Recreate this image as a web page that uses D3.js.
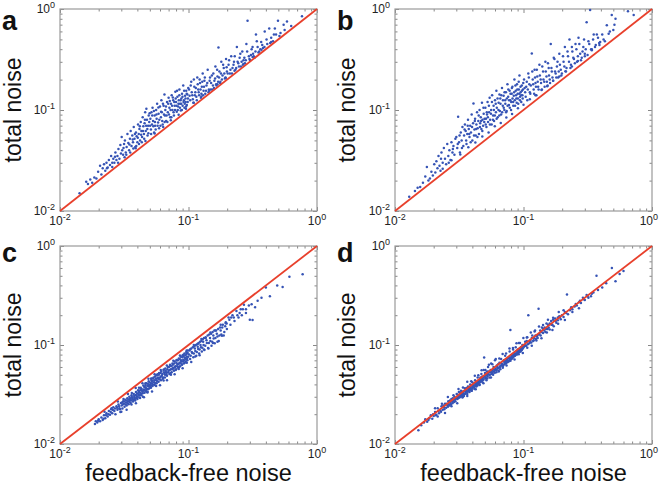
<!DOCTYPE html>
<html><head><meta charset="utf-8">
<script src="https://cdn.jsdelivr.net/npm/d3@7/dist/d3.min.js"></script>
<style>body{margin:0;background:#fff}svg{display:block}text{font-family:"Liberation Sans",Arial,sans-serif}</style>
</head><body><svg id="c" width="660" height="485"></svg>
<script>
const majorTicks=[0.01,0.1,1];
const tickExps=["-2","-1","0"];
const panelLetters=["a","b","c","d"];
const yTitle="total noise";
const xTitle="feedback-free noise";

const ptsA=[[0.0142,0.0150],[0.0160,0.0195],[0.0165,0.0185],[0.0172,0.0205],[0.0178,0.0190],[0.0185,0.0215],[0.0192,0.0210],[0.0198,0.0245],
[0.0205,0.0280],[0.0210,0.0230],[0.0215,0.0265],[0.0220,0.0290],[0.0225,0.0250],[0.0230,0.0300],[0.0235,0.0270],[0.0240,0.0320],[0.0245,0.0285],[0.0250,0.0350],[0.0255,0.0300],[0.0260,0.0330],[0.0265,0.0300],[0.0270,0.0380],[0.0275,0.0320],[0.0280,0.0350],[0.0285,0.0410],[0.0290,0.0330],[0.0295,0.0450],[0.0298,0.0370],
[0.0302,0.0540],[0.0305,0.0400],[0.0310,0.0360],[0.0315,0.0460],[0.0320,0.0500],[0.0325,0.0380],[0.0330,0.0430],[0.0335,0.0580],[0.0340,0.0470],[0.0345,0.0400],[0.0350,0.0520],[0.0355,0.0620],[0.0360,0.0440],[0.0365,0.0560],[0.0370,0.0480],[0.0375,0.0680],[0.0380,0.0520],[0.0385,0.0430],[0.0390,0.0600],[0.0395,0.0550],[0.0400,0.0480],[0.0405,0.0720],[0.0410,0.0580],[0.0415,0.0650],[0.0420,0.0500],[0.0425,0.0760],[0.0430,0.0620],[0.0435,0.0540],[0.0440,0.0850],[0.0445,0.0690],[0.0450,0.0580],[0.0455,0.0740],[0.0460,0.0950],[0.0465,0.0620],[0.0470,0.1030],[0.0475,0.0800],[0.0480,0.0560],[0.0485,0.0700],[0.0490,0.0880],[0.0495,0.0760],
[0.0505,0.0820],[0.0510,0.0640],[0.0515,0.0950],[0.0520,0.0720],[0.0525,0.1050],[0.0530,0.0780],[0.0540,0.0600],[0.0545,0.0880],[0.0550,0.0700],[0.0560,0.1000],[0.0565,0.0820],[0.0570,0.1150],[0.0580,0.0750],[0.0585,0.0920],[0.0590,0.0660],[0.0600,0.1080],[0.0610,0.0850],[0.0615,0.1250],[0.0620,0.0950],[0.0630,0.0720],[0.0640,0.1100],[0.0650,0.1420],[0.0655,0.0880],[0.0660,0.1000],[0.0670,0.0780],[0.0680,0.1200],[0.0690,0.0950],[0.0700,0.1320],[0.0710,0.1050],[0.0720,0.0850],[0.0730,0.1150],[0.0740,0.1400],[0.0750,0.1000],[0.0760,0.1250],[0.0770,0.0880],[0.0780,0.1100],[0.0790,0.1520],[0.0800,0.1200],[0.0810,0.0960],[0.0820,0.1350],[0.0830,0.1080],[0.0840,0.1250],[0.0850,0.1600],[0.0860,0.1150],[0.0870,0.0990],[0.0880,0.1300],[0.0890,0.1450],[0.0900,0.1100],[0.0910,0.1750],[0.0920,0.1250],[0.0930,0.1050],[0.0940,0.1380],[0.0950,0.1200],[0.0960,0.1550],[0.0970,0.1120],[0.0980,0.1420],[0.0990,0.1300],
[0.101,0.160],[0.103,0.125],[0.105,0.190],[0.107,0.140],[0.109,0.118],[0.111,0.170],[0.113,0.150],[0.115,0.135],[0.117,0.210],[0.119,0.160],[0.121,0.140],[0.123,0.185],[0.125,0.132],[0.127,0.170],[0.129,0.230],[0.131,0.155],[0.133,0.195],[0.135,0.145],[0.138,0.175],[0.141,0.250],[0.144,0.160],[0.147,0.210],[0.150,0.185],[0.153,0.160],[0.156,0.230],[0.159,0.195],[0.162,0.270],[0.165,0.175],[0.168,0.215],[0.171,0.416],[0.174,0.240],[0.177,0.190],[0.180,0.300],[0.184,0.220],[0.188,0.260],[0.192,0.205],[0.196,0.320],[0.199,0.240],
[0.205,0.280],[0.210,0.230],[0.215,0.340],[0.220,0.260],[0.226,0.300],[0.232,0.250],[0.238,0.420],[0.244,0.290],[0.250,0.330],[0.256,0.270],[0.262,0.380],[0.268,0.310],[0.275,0.290],[0.282,0.450],[0.288,0.766],[0.295,0.340],[0.302,0.310],[0.310,0.400],[0.318,0.360],[0.326,0.330],[0.335,0.560],[0.345,0.420],[0.355,0.380],[0.368,0.470],[0.380,0.410],[0.392,0.600],
[0.410,0.450],[0.425,0.640],[0.440,0.520],[0.455,0.480],[0.470,0.640],[0.480,0.560],[0.497,0.766],[0.520,0.580],[0.550,0.700],[0.584,0.750],[0.630,0.680],[0.764,0.850]];
const ptsA2=[[0.0232,0.0265],[0.0268,0.0345],[0.0283,0.0300],[0.0312,0.0420],[0.0328,0.0360],[0.0347,0.0455],[0.0352,0.0380],[0.0368,0.0510],[0.0372,0.0415],[0.0383,0.0580],[0.0392,0.0440],[0.0403,0.0530],[0.0412,0.0460],[0.0418,0.0690],[0.0428,0.0570],[0.0433,0.0480],[0.0442,0.0620],[0.0452,0.0520],[0.0458,0.0800],[0.0468,0.0700],[0.0478,0.0650],[0.0487,0.0590],[0.0498,0.0930],[0.0503,0.0700],[0.0512,0.0580],[0.0522,0.0880],[0.0533,0.0690],[0.0538,0.0980],[0.0548,0.0760],[0.0555,0.0640],[0.0563,0.0900],[0.0575,0.0700],[0.0583,0.1060],[0.0593,0.0800],[0.0605,0.0700],[0.0612,0.0960],[0.0625,0.0780],[0.0633,0.1150],[0.0645,0.0900],[0.0652,0.0760],[0.0668,0.1080],[0.0675,0.0880],[0.0685,0.0760],[0.0695,0.1150],[0.0705,0.0900],[0.0715,0.1230],[0.0725,0.1000],[0.0735,0.0850],[0.0745,0.1100],[0.0755,0.1330],[0.0765,0.0950],[0.0775,0.1200],[0.0785,0.1000],[0.0795,0.1300],[0.0805,0.1100],[0.0815,0.1550],[0.0825,0.1000],[0.0835,0.1150],[0.0848,0.1400],[0.0858,0.1050],[0.0868,0.1250],[0.0878,0.1150],[0.0888,0.1000],[0.0898,0.1350],[0.0915,0.1200],[0.0925,0.1550],[0.0935,0.1150],[0.0948,0.1300],[0.0958,0.1080],[0.0968,0.1450],[0.0985,0.1200],[0.0995,0.1650],[0.102,0.138],[0.104,0.175],[0.106,0.150],[0.108,0.128],[0.110,0.200],[0.112,0.140],[0.114,0.165],[0.116,0.125],[0.118,0.180],[0.120,0.150],[0.122,0.200],[0.124,0.160],[0.126,0.145],[0.128,0.190],[0.130,0.140],[0.132,0.170],[0.134,0.210],[0.137,0.155],[0.140,0.185],[0.143,0.150],[0.146,0.195],[0.149,0.160],[0.152,0.220],[0.155,0.175],[0.158,0.165],[0.161,0.205],[0.164,0.180],[0.167,0.250],[0.170,0.190],[0.173,0.210],[0.176,0.185],[0.179,0.230],[0.182,0.200],[0.186,0.280],[0.190,0.230],[0.194,0.210],[0.198,0.265],[0.202,0.230],[0.207,0.310],[0.212,0.250],[0.218,0.230],[0.224,0.280],[0.229,0.340],[0.235,0.260],[0.241,0.300],[0.247,0.270],[0.253,0.360],[0.259,0.300],[0.265,0.280],[0.272,0.330],[0.279,0.310],[0.286,0.380],[0.298,0.320],[0.306,0.350],[0.315,0.420],[0.322,0.340],[0.332,0.380],[0.340,0.480],[0.350,0.370],[0.362,0.400],[0.375,0.440],[0.390,0.420],[0.405,0.500],[0.432,0.460],[0.462,0.560],[0.510,0.540],[0.560,0.620]];
const ptsA3=[[0.0255,0.0272],[0.0318,0.0340],[0.0388,0.0418],[0.0462,0.0492],[0.0545,0.0585],[0.0635,0.0680],[0.0728,0.0790],[0.0838,0.0895],[0.0955,0.1030],[0.110,0.1180],[0.126,0.1360],[0.145,0.1550],[0.168,0.1800],[0.195,0.2080],[0.228,0.2450],[0.268,0.2850],[0.315,0.3350],[0.370,0.3950],[0.440,0.4700]];

const ptsB=[[0.0129,0.0138],[0.0143,0.0158],[0.0150,0.0170],[0.0157,0.0173],[0.0165,0.0190],[0.0172,0.0220],[0.0177,0.0273],[0.0182,0.0200],[0.0187,0.0210],[0.0192,0.0245],[0.0197,0.0225],
[0.0202,0.0290],[0.0206,0.0240],[0.0210,0.0310],[0.0214,0.0265],[0.0218,0.0350],[0.0222,0.0280],[0.0226,0.0250],[0.0230,0.0380],[0.0235,0.0300],[0.0240,0.0420],[0.0245,0.0330],[0.0250,0.0290],[0.0255,0.0460],[0.0260,0.0350],[0.0265,0.0400],[0.0270,0.0320],[0.0275,0.0480],[0.0280,0.0380],[0.0285,0.0440],[0.0290,0.0360],[0.0295,0.0520],
[0.0300,0.0540],[0.0305,0.0420],[0.0310,0.0857],[0.0315,0.0480],[0.0320,0.0380],[0.0325,0.0600],[0.0330,0.0500],[0.0335,0.0680],[0.0340,0.0440],[0.0345,0.0560],[0.0350,0.0720],[0.0355,0.0620],[0.0360,0.0460],[0.0365,0.0580],[0.0370,0.0800],[0.0375,0.0650],[0.0380,0.0540],[0.0385,0.0700],[0.0390,0.0600],[0.0395,0.0900],[0.0400,0.0500],[0.0405,0.0740],[0.0408,0.1160],[0.0415,0.0640],[0.0420,0.0820],[0.0425,0.0560],[0.0430,0.0720],[0.0435,0.0950],[0.0440,0.0660],[0.0445,0.0780],[0.0450,0.0580],[0.0455,0.1000],[0.0460,0.0740],[0.0465,0.0850],[0.0470,0.0650],[0.0475,0.1180],[0.0480,0.0800],[0.0485,0.0700],[0.0490,0.0920],[0.0495,0.0760],
[0.0505,0.1050],[0.0510,0.0820],[0.0515,0.0680],[0.0520,0.0900],[0.0525,0.1200],[0.0530,0.0760],[0.0540,0.0950],[0.0545,0.1320],[0.0550,0.0800],[0.0560,0.1000],[0.0565,0.0720],[0.0570,0.1400],[0.0580,0.0880],[0.0585,0.1100],[0.0590,0.0780],[0.0600,0.1250],[0.0610,0.0950],[0.0615,0.1550],[0.0620,0.1050],[0.0630,0.0850],[0.0640,0.1180],[0.0650,0.1420],[0.0655,0.0980],[0.0660,0.1300],[0.0670,0.0900],[0.0680,0.1650],[0.0690,0.1100],[0.0700,0.1380],[0.0710,0.1000],[0.0720,0.1250],[0.0730,0.1500],[0.0740,0.0980],[0.0750,0.1800],[0.0760,0.1350],[0.0770,0.1120],[0.0780,0.1550],[0.0790,0.1250],[0.0800,0.1000],[0.0810,0.1450],[0.0820,0.1700],[0.0830,0.1200],[0.0840,0.1380],[0.0850,0.2000],[0.0860,0.1100],[0.0870,0.1550],[0.0880,0.1300],[0.0890,0.1800],[0.0900,0.1450],[0.0910,0.1150],[0.0920,0.1600],[0.0930,0.2200],[0.0940,0.1350],[0.0950,0.1500],[0.0960,0.1200],[0.0970,0.1750],[0.0980,0.1400],[0.0990,0.1600],
[0.101,0.200],[0.103,0.150],[0.105,0.170],[0.107,0.125],[0.109,0.230],[0.111,0.180],[0.113,0.145],[0.116,0.362],[0.118,0.200],[0.120,0.160],[0.122,0.250],[0.124,0.185],[0.126,0.140],[0.128,0.215],[0.130,0.170],[0.133,0.280],[0.136,0.200],[0.139,0.160],[0.142,0.240],[0.145,0.190],[0.148,0.300],[0.151,0.215],[0.154,0.175],[0.157,0.260],[0.160,0.200],[0.163,0.450],[0.166,0.240],[0.170,0.195],[0.174,0.320],[0.178,0.230],[0.182,0.270],[0.186,0.210],[0.190,0.360],[0.195,0.250],[0.199,0.230],
[0.205,0.300],[0.210,0.420],[0.216,0.260],[0.222,0.340],[0.228,0.500],[0.234,0.280],[0.240,0.380],[0.247,0.320],[0.254,0.450],[0.261,0.300],[0.268,0.520],[0.276,0.360],[0.284,0.330],[0.292,0.420],[0.300,0.360],[0.310,0.740],[0.320,0.480],[0.330,0.980],[0.340,0.400],[0.352,0.560],[0.365,0.440],[0.380,0.520],[0.395,0.470],
[0.420,0.500],[0.445,0.690],[0.460,0.570],[0.486,0.870],[0.500,0.620],[0.520,0.800],[0.650,0.950],[0.720,0.870]];
const ptsB2=[[0.0228,0.0330],[0.0262,0.0300],[0.0282,0.0410],[0.0308,0.0460],[0.0318,0.0560],[0.0332,0.0420],[0.0348,0.0640],[0.0358,0.0500],[0.0368,0.0700],[0.0378,0.0580],[0.0388,0.0480],[0.0398,0.0680],[0.0412,0.0560],[0.0418,0.0780],[0.0428,0.0650],[0.0438,0.0540],[0.0448,0.0880],[0.0458,0.0680],[0.0468,0.0780],[0.0478,0.0620],[0.0488,0.1050],[0.0498,0.0820],[0.0508,0.0720],[0.0518,0.0950],[0.0528,0.0850],[0.0538,0.1100],[0.0548,0.0720],[0.0558,0.0920],[0.0568,0.1200],[0.0578,0.0800],[0.0588,0.1000],[0.0598,0.0880],[0.0608,0.1150],[0.0618,0.0820],[0.0628,0.1300],[0.0638,0.1000],[0.0648,0.0880],[0.0662,0.1150],[0.0672,0.1400],[0.0682,0.0950],[0.0692,0.1250],[0.0702,0.1050],[0.0712,0.1500],[0.0722,0.1150],[0.0732,0.0950],[0.0742,0.1300],[0.0752,0.1100],[0.0762,0.1600],[0.0772,0.1250],[0.0782,0.1050],[0.0792,0.1450],[0.0802,0.1200],[0.0812,0.1650],[0.0822,0.1300],[0.0832,0.1100],[0.0845,0.1500],[0.0855,0.1250],[0.0865,0.1750],[0.0875,0.1400],[0.0885,0.1180],[0.0895,0.1600],[0.0905,0.1300],[0.0918,0.1900],[0.0928,0.1450],[0.0938,0.1250],[0.0948,0.1700],[0.0958,0.1400],[0.0972,0.1550],[0.0985,0.1300],[0.0995,0.1850],[0.102,0.165],[0.104,0.135],[0.106,0.190],[0.108,0.160],[0.110,0.210],[0.112,0.150],[0.114,0.175],[0.117,0.240],[0.119,0.180],[0.121,0.145],[0.123,0.210],[0.125,0.170],[0.127,0.250],[0.129,0.190],[0.131,0.160],[0.134,0.220],[0.137,0.185],[0.140,0.270],[0.143,0.200],[0.146,0.170],[0.149,0.240],[0.152,0.190],[0.155,0.290],[0.158,0.220],[0.161,0.185],[0.165,0.260],[0.168,0.210],[0.172,0.330],[0.176,0.240],[0.180,0.210],[0.184,0.300],[0.188,0.240],[0.192,0.280],[0.197,0.220],[0.203,0.340],[0.208,0.270],[0.214,0.240],[0.220,0.380],[0.226,0.300],[0.232,0.260],[0.238,0.420],[0.244,0.330],[0.251,0.290],[0.258,0.400],[0.265,0.340],[0.272,0.450],[0.280,0.310],[0.288,0.380],[0.296,0.500],[0.305,0.400],[0.315,0.350],[0.325,0.450],[0.336,0.400],[0.348,0.500],[0.360,0.420],[0.372,0.560],[0.388,0.460],[0.410,0.560],[0.430,0.480],[0.470,0.600],[0.510,0.700]];
const ptsB3=[[0.0235,0.0262],[0.0275,0.0318],[0.0322,0.0362],[0.0372,0.0428],[0.0422,0.0478],[0.0478,0.0545],[0.0535,0.0598],[0.0598,0.0690],[0.0665,0.0745],[0.0735,0.0845],[0.0815,0.0915],[0.0905,0.1040],[0.1000,0.1130],[0.112,0.1280],[0.124,0.1400],[0.138,0.1580],[0.153,0.1720],[0.170,0.1950],[0.190,0.2150],[0.212,0.2420],[0.238,0.2700],[0.265,0.3050],[0.300,0.3400],[0.340,0.3900],[0.390,0.4400]];

const ptsC=[[0.0187,0.0159],[0.0190,0.0170],[0.0195,0.0165],[0.0200,0.0178],[0.0205,0.0170],[0.0210,0.0185],[0.0215,0.0175],[0.0220,0.0195],[0.0225,0.0182],[0.0230,0.0205],[0.0235,0.0190],[0.0240,0.0215],[0.0245,0.0198],[0.0250,0.0225],[0.0255,0.0205],[0.0260,0.0235],[0.0265,0.0215],[0.0270,0.0200],[0.0275,0.0240],[0.0280,0.0222],[0.0285,0.0250],[0.0290,0.0230],[0.0295,0.0210],[0.0298,0.0260],
[0.0302,0.0245],[0.0306,0.0228],[0.0310,0.0270],[0.0314,0.0255],[0.0318,0.0238],[0.0322,0.0280],[0.0326,0.0262],[0.0330,0.0245],[0.0334,0.0290],[0.0338,0.0270],[0.0342,0.0252],[0.0346,0.0300],[0.0350,0.0278],[0.0355,0.0260],[0.0360,0.0310],[0.0365,0.0285],[0.0370,0.0268],[0.0375,0.0320],[0.0380,0.0295],[0.0385,0.0275],[0.0390,0.0335],[0.0395,0.0305],[0.0400,0.0285],[0.0405,0.0350],[0.0410,0.0315],[0.0415,0.0295],[0.0420,0.0330],[0.0425,0.0370],[0.0430,0.0310],[0.0435,0.0345],[0.0440,0.0325],[0.0445,0.0390],[0.0450,0.0355],[0.0455,0.0330],[0.0460,0.0375],[0.0465,0.0345],[0.0470,0.0410],[0.0475,0.0360],[0.0480,0.0340],[0.0485,0.0385],[0.0490,0.0430],[0.0495,0.0365],
[0.0505,0.0395],[0.0510,0.0370],[0.0515,0.0440],[0.0520,0.0410],[0.0525,0.0385],[0.0530,0.0460],[0.0540,0.0420],[0.0545,0.0395],[0.0550,0.0480],[0.0560,0.0440],[0.0565,0.0410],[0.0570,0.0500],[0.0580,0.0455],[0.0585,0.0425],[0.0590,0.0520],[0.0600,0.0470],[0.0610,0.0440],[0.0615,0.0540],[0.0620,0.0490],[0.0630,0.0455],[0.0640,0.0560],[0.0650,0.0510],[0.0655,0.0470],[0.0660,0.0580],[0.0670,0.0530],[0.0680,0.0490],[0.0690,0.0600],[0.0700,0.0550],[0.0710,0.0510],[0.0720,0.0620],[0.0730,0.0570],[0.0740,0.0530],[0.0750,0.0650],[0.0760,0.0590],[0.0770,0.0550],[0.0780,0.0680],[0.0790,0.0610],[0.0800,0.0570],[0.0810,0.0700],[0.0820,0.0640],[0.0830,0.0590],[0.0840,0.0730],[0.0850,0.0660],[0.0860,0.0610],[0.0870,0.0760],[0.0880,0.0680],[0.0890,0.0630],[0.0900,0.0790],[0.0910,0.0710],[0.0920,0.0650],[0.0930,0.0820],[0.0940,0.0740],[0.0950,0.0680],[0.0960,0.0850],[0.0970,0.0760],[0.0980,0.0700],[0.0990,0.0880],
[0.101,0.080],[0.103,0.072],[0.105,0.092],[0.107,0.083],[0.109,0.075],[0.111,0.097],[0.113,0.087],[0.115,0.078],[0.117,0.102],[0.119,0.091],[0.121,0.082],[0.123,0.108],[0.125,0.095],[0.127,0.086],[0.129,0.114],[0.131,0.100],[0.133,0.089],[0.136,0.120],[0.139,0.105],[0.142,0.093],[0.145,0.128],[0.148,0.110],[0.151,0.098],[0.154,0.135],[0.157,0.116],[0.160,0.104],[0.164,0.140],[0.168,0.122],[0.172,0.110],[0.176,0.150],[0.180,0.128],[0.185,0.160],[0.190,0.135],[0.195,0.170],[0.199,0.145],
[0.205,0.190],[0.212,0.160],[0.220,0.200],[0.228,0.175],[0.236,0.220],[0.245,0.190],[0.255,0.230],[0.260,0.200],[0.270,0.255],[0.280,0.210],[0.295,0.250],[0.300,0.180],[0.310,0.258],[0.315,0.179],[0.330,0.240],[0.345,0.280],[0.370,0.300],[0.400,0.380],[0.430,0.310],[0.490,0.400],[0.540,0.385],[0.610,0.488],[0.773,0.518]];
const ptsC2=[[0.0198,0.0172],[0.0218,0.0180],[0.0228,0.0195],[0.0238,0.0200],[0.0248,0.0210],[0.0258,0.0220],[0.0268,0.0228],[0.0278,0.0232],[0.0288,0.0240],[0.0293,0.0225],[0.0304,0.0262],[0.0308,0.0250],[0.0316,0.0268],[0.0324,0.0250],[0.0328,0.0275],[0.0336,0.0258],[0.0340,0.0282],[0.0348,0.0265],[0.0352,0.0290],[0.0358,0.0275],[0.0362,0.0298],[0.0368,0.0292],[0.0372,0.0278],[0.0378,0.0305],[0.0382,0.0285],[0.0388,0.0312],[0.0392,0.0292],[0.0398,0.0322],[0.0402,0.0300],[0.0408,0.0330],[0.0412,0.0342],[0.0418,0.0310],[0.0422,0.0352],[0.0428,0.0320],[0.0432,0.0360],[0.0438,0.0335],[0.0442,0.0300],[0.0448,0.0345],[0.0452,0.0378],[0.0458,0.0350],[0.0462,0.0395],[0.0468,0.0365],[0.0472,0.0335],[0.0478,0.0385],[0.0482,0.0405],[0.0488,0.0360],[0.0492,0.0395],[0.0498,0.0420],[0.0502,0.0380],[0.0508,0.0410],[0.0512,0.0455],[0.0518,0.0390],[0.0522,0.0430],[0.0528,0.0400],[0.0535,0.0470],[0.0542,0.0440],[0.0552,0.0410],[0.0558,0.0460],[0.0562,0.0495],[0.0572,0.0430],[0.0578,0.0470],[0.0588,0.0500],[0.0595,0.0450],[0.0605,0.0520],[0.0612,0.0480],[0.0625,0.0510],[0.0635,0.0470],[0.0645,0.0530],[0.0658,0.0500],[0.0665,0.0550],[0.0675,0.0510],[0.0685,0.0570],[0.0695,0.0530],[0.0705,0.0600],[0.0715,0.0560],[0.0725,0.0520],[0.0735,0.0610],[0.0745,0.0570],[0.0755,0.0630],[0.0765,0.0580],[0.0775,0.0650],[0.0785,0.0600],[0.0795,0.0560],[0.0805,0.0660],[0.0815,0.0610],[0.0825,0.0700],[0.0835,0.0640],[0.0845,0.0600],[0.0855,0.0720],[0.0865,0.0660],[0.0875,0.0700],[0.0885,0.0640],[0.0895,0.0750],[0.0905,0.0680],[0.0915,0.0770],[0.0925,0.0700],[0.0935,0.0660],[0.0945,0.0790],[0.0955,0.0720],[0.0965,0.0810],[0.0975,0.0730],[0.0985,0.0830],[0.0995,0.0760],[0.102,0.088],[0.104,0.078],[0.106,0.085],[0.108,0.095],[0.110,0.082],[0.112,0.092],[0.114,0.100],[0.116,0.085],[0.118,0.096],[0.120,0.105],[0.122,0.090],[0.124,0.100],[0.126,0.110],[0.128,0.094],[0.130,0.108],[0.132,0.118],[0.135,0.098],[0.138,0.112],[0.141,0.125],[0.144,0.105],[0.147,0.118],[0.150,0.130],[0.153,0.108],[0.156,0.125],[0.159,0.140],[0.162,0.118],[0.166,0.130],[0.170,0.145],[0.174,0.125],[0.178,0.140],[0.183,0.150],[0.188,0.125],[0.193,0.155],[0.198,0.165],[0.208,0.180],[0.225,0.190],[0.250,0.210],[0.265,0.230]];
const ptsC3=[[0.030,0.0212],[0.033,0.0222],[0.036,0.0250],[0.039,0.0258],[0.042,0.0292],[0.045,0.0296],[0.048,0.0332],[0.052,0.0340],[0.056,0.0385],[0.060,0.0392],[0.064,0.0438],[0.068,0.0440],[0.073,0.0500],[0.078,0.0505],[0.084,0.0572],[0.090,0.0582],[0.097,0.0660],[0.105,0.0672],[0.113,0.0765],[0.122,0.0790],[0.132,0.0900],[0.143,0.0920],[0.155,0.1050],[0.168,0.1080],[0.182,0.1240],
[0.0222,0.0212],[0.0252,0.0230],[0.0282,0.0268],[0.0312,0.0284],[0.0338,0.0320],[0.0362,0.0328],[0.0388,0.0368],[0.0412,0.0370],[0.0438,0.0410],[0.0462,0.0412],[0.0488,0.0456],[0.0515,0.0460],[0.0545,0.0505],[0.0575,0.0505],[0.0608,0.0560],[0.0642,0.0565],[0.0678,0.0620],[0.0718,0.0630],[0.0762,0.0695],[0.0808,0.0705],[0.0858,0.0785],[0.0912,0.0795],[0.0968,0.0880],[0.103,0.0905],[0.110,0.1000],[0.118,0.1030],[0.126,0.1150],[0.136,0.1180],[0.148,0.1340],[0.162,0.1400],[0.178,0.1600],[0.195,0.1660],[0.215,0.1900],[0.240,0.2000],[0.280,0.2300]];

const ptsD=[[0.0152,0.0138],[0.0160,0.0155],[0.0168,0.0165],[0.0172,0.0178],[0.0178,0.0168],[0.0185,0.0182],[0.0190,0.0195],[0.0195,0.0180],[0.0200,0.0192],[0.0205,0.0210],[0.0210,0.0198],[0.0215,0.0230],[0.0220,0.0205],[0.0225,0.0218],[0.0230,0.0240],[0.0235,0.0222],[0.0240,0.0235],[0.0245,0.0255],[0.0250,0.0232],[0.0255,0.0248],[0.0260,0.0270],[0.0265,0.0245],[0.0270,0.0260],[0.0275,0.0285],[0.0280,0.0258],[0.0285,0.0275],[0.0290,0.0300],[0.0295,0.0270],[0.0298,0.0288],
[0.0302,0.0320],[0.0306,0.0285],[0.0310,0.0300],[0.0314,0.0335],[0.0318,0.0295],[0.0322,0.0312],[0.0326,0.0345],[0.0330,0.0305],[0.0334,0.0322],[0.0338,0.0300],[0.0342,0.0340],[0.0346,0.0318],[0.0350,0.0365],[0.0355,0.0330],[0.0360,0.0345],[0.0365,0.0320],[0.0370,0.0380],[0.0375,0.0350],[0.0380,0.0335],[0.0385,0.0400],[0.0390,0.0360],[0.0395,0.0345],[0.0400,0.0420],[0.0405,0.0375],[0.0410,0.0390],[0.0415,0.0360],[0.0420,0.0440],[0.0425,0.0395],[0.0430,0.0380],[0.0435,0.0410],[0.0440,0.0470],[0.0445,0.0405],[0.0450,0.0420],[0.0455,0.0395],[0.0460,0.0450],[0.0465,0.0430],[0.0470,0.0510],[0.0475,0.0440],[0.0480,0.0420],[0.0485,0.0470],[0.0490,0.0560],[0.0494,0.0748],
[0.0505,0.0460],[0.0510,0.0500],[0.0515,0.0440],[0.0520,0.0540],[0.0525,0.0480],[0.0530,0.0600],[0.0540,0.0500],[0.0545,0.0470],[0.0550,0.0530],[0.0560,0.0650],[0.0565,0.0510],[0.0570,0.0550],[0.0580,0.0500],[0.0585,0.0600],[0.0590,0.0540],[0.0600,0.0700],[0.0610,0.0560],[0.0615,0.0530],[0.0620,0.0620],[0.0630,0.0580],[0.0640,0.0550],[0.0650,0.0660],[0.0655,0.0600],[0.0660,0.0570],[0.0670,0.0720],[0.0680,0.0620],[0.0690,0.0590],[0.0700,0.0680],[0.0710,0.0640],[0.0720,0.0780],[0.0730,0.0650],[0.0740,0.0700],[0.0750,0.0670],[0.0760,0.0740],[0.0770,0.0690],[0.0780,0.0860],[0.0790,0.1420],[0.0800,0.0720],[0.0810,0.0780],[0.0820,0.0740],[0.0830,0.0900],[0.0840,0.0770],[0.0850,0.0810],[0.0860,0.0780],[0.0870,0.0950],[0.0880,0.0820],[0.0890,0.0800],[0.0900,0.0870],[0.0910,0.0830],[0.0920,0.1050],[0.0930,0.0850],[0.0940,0.0900],[0.0950,0.0860],[0.0960,0.0930],[0.0970,0.0890],[0.0980,0.1000],[0.0990,0.0920],
[0.101,0.096],[0.103,0.108],[0.105,0.098],[0.107,0.120],[0.109,0.200],[0.111,0.104],[0.113,0.112],[0.115,0.106],[0.117,0.125],[0.119,0.110],[0.121,0.118],[0.123,0.140],[0.125,0.115],[0.127,0.122],[0.129,0.118],[0.131,0.233],[0.133,0.130],[0.136,0.125],[0.139,0.150],[0.142,0.132],[0.145,0.140],[0.148,0.135],[0.151,0.165],[0.154,0.145],[0.157,0.150],[0.160,0.143],[0.164,0.175],[0.168,0.160],[0.172,0.155],[0.176,0.185],[0.180,0.168],[0.185,0.178],[0.190,0.195],[0.195,0.182],[0.199,0.200],
[0.205,0.192],[0.210,0.215],[0.218,0.324],[0.222,0.205],[0.230,0.225],[0.240,0.230],[0.250,0.245],[0.260,0.250],[0.270,0.270],[0.280,0.265],[0.290,0.300],[0.300,0.285],[0.310,0.320],[0.320,0.300],[0.335,0.310],[0.350,0.340],[0.370,0.500],[0.380,0.360],[0.410,0.380],[0.440,0.420],[0.487,0.600],[0.520,0.440],[0.560,0.520],[0.600,0.560]];
const ptsD2=[[0.0182,0.0175],[0.0198,0.0200],[0.0208,0.0195],[0.0218,0.0215],[0.0228,0.0212],[0.0238,0.0245],[0.0242,0.0225],[0.0252,0.0255],[0.0258,0.0238],[0.0262,0.0252],[0.0268,0.0275],[0.0272,0.0250],[0.0278,0.0268],[0.0282,0.0290],[0.0288,0.0265],[0.0292,0.0282],[0.0304,0.0290],[0.0308,0.0315],[0.0312,0.0292],[0.0316,0.0305],[0.0320,0.0330],[0.0324,0.0300],[0.0328,0.0318],[0.0332,0.0340],[0.0336,0.0312],[0.0340,0.0325],[0.0344,0.0305],[0.0348,0.0345],[0.0352,0.0322],[0.0358,0.0340],[0.0362,0.0368],[0.0368,0.0338],[0.0372,0.0355],[0.0378,0.0368],[0.0382,0.0350],[0.0388,0.0375],[0.0392,0.0390],[0.0398,0.0362],[0.0402,0.0385],[0.0408,0.0400],[0.0412,0.0375],[0.0418,0.0410],[0.0422,0.0385],[0.0428,0.0420],[0.0432,0.0400],[0.0438,0.0390],[0.0442,0.0430],[0.0448,0.0410],[0.0452,0.0440],[0.0458,0.0420],[0.0462,0.0470],[0.0468,0.0435],[0.0472,0.0455],[0.0478,0.0480],[0.0482,0.0450],[0.0488,0.0445],[0.0498,0.0480],[0.0502,0.0520],[0.0508,0.0470],[0.0518,0.0495],[0.0528,0.0510],[0.0535,0.0540],[0.0548,0.0500],[0.0555,0.0560],[0.0562,0.0530],[0.0575,0.0520],[0.0582,0.0570],[0.0595,0.0560],[0.0605,0.0580],[0.0618,0.0560],[0.0625,0.0600],[0.0635,0.0640],[0.0645,0.0590],[0.0662,0.0620],[0.0675,0.0650],[0.0685,0.0640],[0.0695,0.0620],[0.0705,0.0700],[0.0715,0.0660],[0.0725,0.0690],[0.0735,0.0670],[0.0745,0.0720],[0.0755,0.0700],[0.0765,0.0680],[0.0775,0.0750],[0.0785,0.0720],[0.0795,0.0740],[0.0805,0.0760],[0.0815,0.0730],[0.0825,0.0800],[0.0835,0.0760],[0.0845,0.0830],[0.0855,0.0790],[0.0865,0.0820],[0.0875,0.0800],[0.0885,0.0860],[0.0895,0.0820],[0.0905,0.0900],[0.0915,0.0860],[0.0925,0.0880],[0.0935,0.0920],[0.0945,0.0870],[0.0955,0.0950],[0.0965,0.0900],[0.0975,0.0930],[0.0985,0.0960],[0.102,0.100],[0.104,0.098],[0.106,0.110],[0.108,0.102],[0.112,0.108],[0.116,0.118],[0.120,0.112],[0.124,0.125],[0.128,0.125],[0.132,0.128],[0.135,0.140],[0.138,0.135],[0.142,0.145],[0.146,0.150],[0.150,0.145],[0.155,0.160],[0.160,0.165],[0.165,0.160],[0.170,0.180],[0.178,0.175],[0.185,0.190],[0.192,0.190],[0.215,0.210],[0.235,0.240],[0.255,0.260],[0.275,0.280],[0.295,0.290],[0.315,0.310],[0.340,0.330]];
const ptsD3=[[0.0205,0.0230],[0.0232,0.0255],[0.0258,0.0298],[0.0285,0.0310],[0.0312,0.0360],[0.0338,0.0372],[0.0365,0.0425],[0.0392,0.0430],[0.0418,0.0490],[0.0445,0.0495],[0.0472,0.0555],[0.0505,0.0560],[0.0538,0.0630],[0.0572,0.0640],[0.0608,0.0720],[0.0648,0.0730],[0.0688,0.0810],[0.0732,0.0820],[0.0778,0.0920],[0.0828,0.0930],[0.0882,0.1040],[0.0938,0.1050],[0.0998,0.1180],[0.106,0.1190],[0.114,0.1340],[0.122,0.1370],[0.132,0.1540],[0.142,0.1590],[0.155,0.1800],[0.170,0.1880],[0.188,0.2150],[0.205,0.2250],
[0.0215,0.0190],[0.0245,0.0206],[0.0275,0.0240],[0.0305,0.0258],[0.0335,0.0295],[0.0365,0.0306],[0.0395,0.0345],[0.0425,0.0358],[0.0455,0.0400],[0.0488,0.0410],[0.0522,0.0458],[0.0558,0.0470],[0.0598,0.0525],[0.0642,0.0540],[0.0688,0.0605],[0.0738,0.0620],[0.0792,0.0695],[0.0852,0.0715],[0.0918,0.0805],[0.0988,0.0830],[0.107,0.0940],[0.116,0.0980],[0.126,0.1110],[0.138,0.1170],[0.152,0.1340],[0.168,0.1420],[0.186,0.1640],[0.210,0.1790],[0.240,0.2150],[0.270,0.2350]];

const panelData=[ptsA.concat(ptsA2,ptsA3),ptsB.concat(ptsB2,ptsB3),ptsC.concat(ptsC2,ptsC3),ptsD.concat(ptsD2,ptsD3)];

const svg=d3.select("#c");
const layout=[
 {L:60,R:317,T:9,B:211,lx:2,ly:30,ty:21,xt:false},
 {L:395,R:652,T:9,B:211,lx:337,ly:30,ty:355,xt:false},
 {L:60,R:317,T:246,B:444,lx:2,ly:262,ty:21,xt:true},
 {L:395,R:652,T:246,B:444,lx:337,ly:262,ty:355,xt:true}
];
const frameCol="#9a9a9a", tickCol="#888";
const dotCol="#3553b5", lineCol="#e8402c";

layout.forEach((p,i)=>{
  const g=svg.append("g");
  const x=d3.scaleLog().domain([0.01,1]).range([p.L,p.R]);
  const y=d3.scaleLog().domain([0.01,1]).range([p.B,p.T]);
  const allT=x.ticks();
  const minor=allT.filter(t=>!majorTicks.some(m=>Math.abs(m-t)<1e-9));
  const mk=(axisFn,scale,vals,size,tr)=>{
    const a=g.append("g").attr("transform",tr).call(axisFn(scale).tickValues(vals).tickSize(size).tickSizeOuter(0).tickFormat(""));
    a.select(".domain").remove();
    a.selectAll("line").attr("stroke",tickCol).attr("stroke-width",1);
  };
  mk(d3.axisBottom,x,minor,-2.5,`translate(0,${p.B})`);
  mk(d3.axisBottom,x,majorTicks,-4,`translate(0,${p.B})`);
  mk(d3.axisTop,x,minor,-2.5,`translate(0,${p.T})`);
  mk(d3.axisTop,x,majorTicks,-4,`translate(0,${p.T})`);
  mk(d3.axisLeft,y,minor,-2.5,`translate(${p.L},0)`);
  mk(d3.axisLeft,y,majorTicks,-4,`translate(${p.L},0)`);
  mk(d3.axisRight,y,minor,-2.5,`translate(${p.R},0)`);
  mk(d3.axisRight,y,majorTicks,-4,`translate(${p.R},0)`);
  g.append("rect").attr("x",p.L).attr("y",p.T).attr("width",p.R-p.L).attr("height",p.B-p.T)
    .attr("fill","none").attr("stroke",frameCol).attr("stroke-width",1.2);
  g.append("g").selectAll("circle").data(panelData[i]).join("circle")
    .attr("cx",d=>x(d[0])).attr("cy",d=>y(d[1])).attr("r",1.25).attr("fill",dotCol);
  g.append("line").attr("x1",x(0.01)).attr("y1",y(0.01)).attr("x2",x(1)).attr("y2",y(1))
    .attr("stroke",lineCol).attr("stroke-width",1.8);
  const lab=(sel,e)=>{sel.append("tspan").text("10");sel.append("tspan").attr("dy",-5).attr("font-size",9).text(e);};
  majorTicks.forEach((m,k)=>{
    const tx=g.append("text").attr("x",x(m)).attr("y",p.B+14).attr("text-anchor","middle").attr("font-size",12).attr("fill","#222").call(lab,tickExps[k]);
    const bb=tx.node().getBBox();
    if(bb.x+bb.width>658) tx.attr("x",x(m)-(bb.x+bb.width-658));
    g.append("text").attr("x",p.L-5).attr("y",y(m)+4).attr("text-anchor","end").attr("font-size",12).attr("fill","#222").call(lab,tickExps[k]);
  });
  g.append("text").attr("transform",`translate(${p.ty},${(p.T+p.B)/2}) rotate(-90)`).attr("text-anchor","middle")
    .attr("font-size",23).attr("fill","#111").text(yTitle);
  if(p.xt){
    g.append("text").attr("x",(p.L+p.R)/2).attr("y",481).attr("text-anchor","middle").attr("font-size",23.5).attr("fill","#111").text(xTitle);
  }
  g.append("text").attr("x",p.lx).attr("y",p.ly).attr("font-size",27).attr("font-weight","bold").attr("fill","#111").text(panelLetters[i]);
});
</script></body></html>
